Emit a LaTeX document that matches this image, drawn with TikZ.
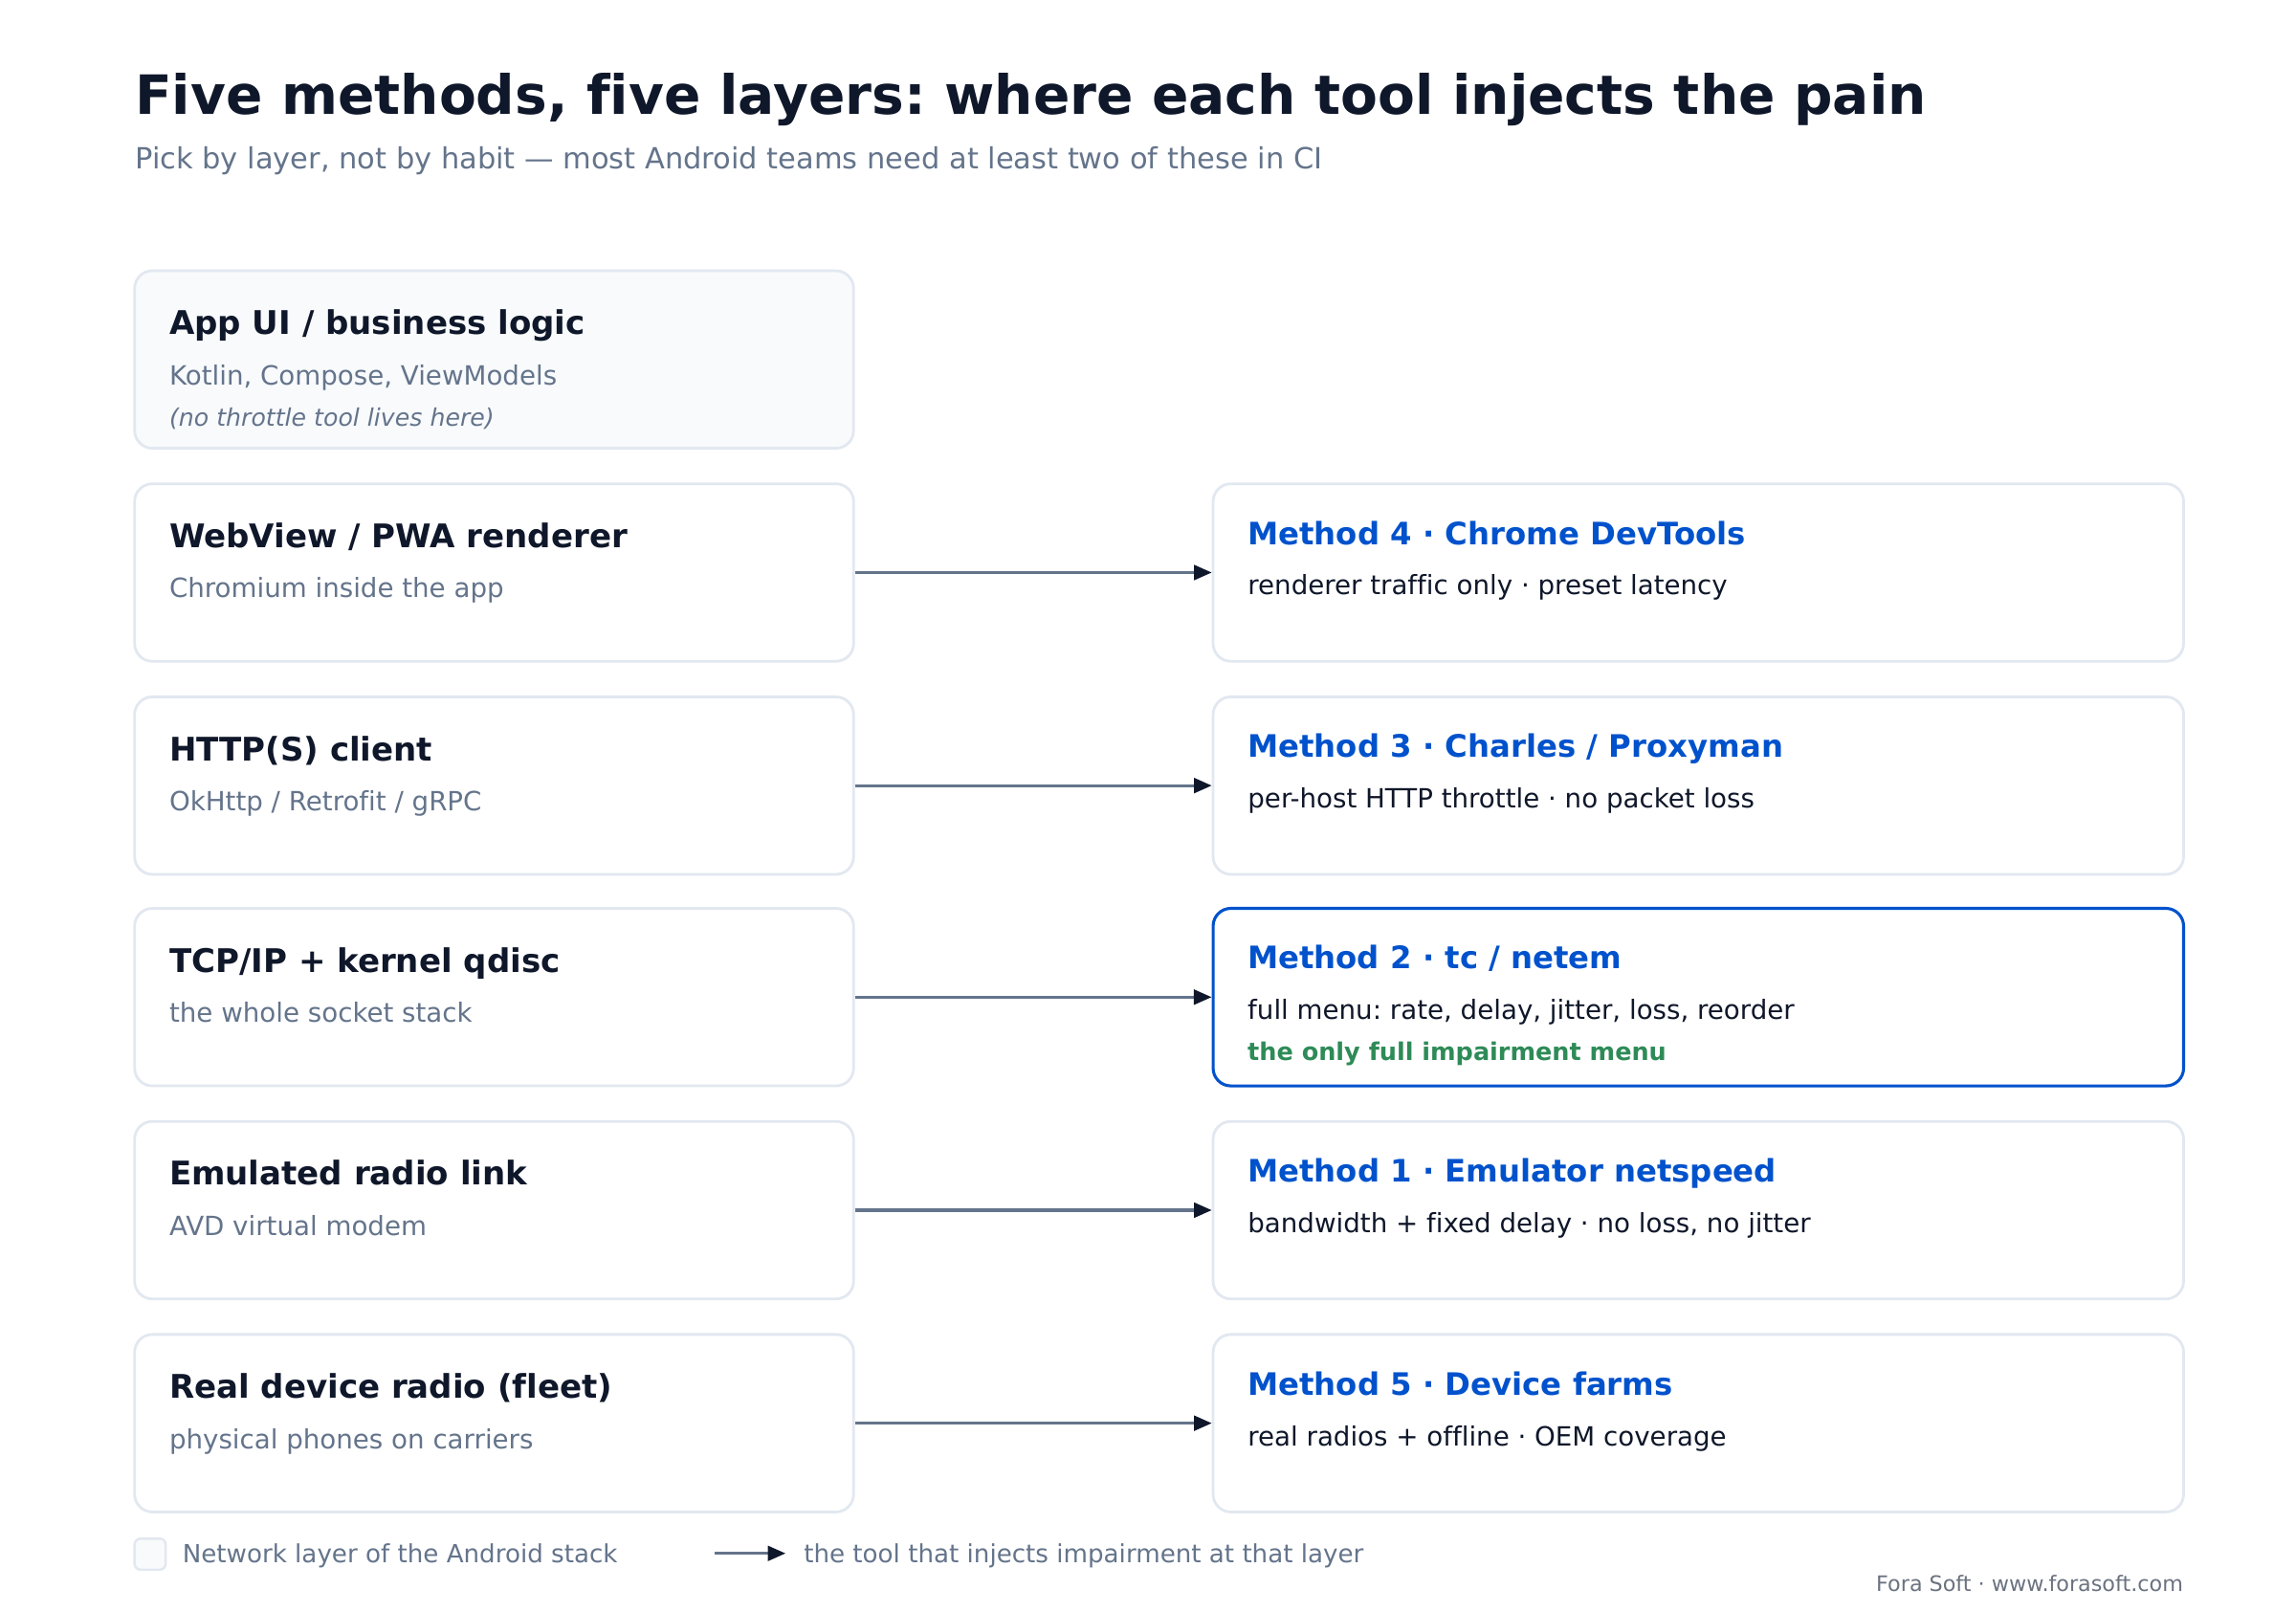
\documentclass[tikz,border=0pt]{standalone}
\usepackage{fontspec}
\setmainfont{DejaVu Sans}[Ligatures=NoCommon]
\usetikzlibrary{arrows.meta}
\definecolor{ink}{HTML}{0F172A}
\definecolor{muted}{HTML}{64748B}
\definecolor{edge}{HTML}{E2E8F0}
\definecolor{panel}{HTML}{F8FAFC}
\definecolor{accent}{HTML}{0052CC}
\definecolor{good}{HTML}{2E8B57}
\definecolor{credit}{HTML}{6B7280}
\frenchspacing
\tikzset{
  layer/.style={draw=edge, fill=white, rounded corners=6pt, line width=0.9pt,
    minimum width=243pt, minimum height=60pt, inner sep=0pt},
  applayer/.style={layer, fill=panel},
  method/.style={layer, minimum width=328pt},
  keymethod/.style={method, draw=accent, line width=1pt},
  head/.style={anchor=base west, inner sep=0pt, text=ink, font=\bfseries\fontsize{11}{13}\selectfont},
  mhead/.style={head, text=accent, font=\bfseries\fontsize{10.45}{12.5}\selectfont},
  sub/.style={anchor=base west, inner sep=0pt, text=muted, font=\fontsize{8.95}{11}\selectfont},
  msub/.style={sub, text=ink},
  aside/.style={sub, font=\itshape\fontsize{8.15}{10}\selectfont},
  win/.style={sub, text=good, font=\bfseries\fontsize{8.25}{10}\selectfont},
  keytext/.style={sub, font=\fontsize{8.45}{10}\selectfont},
  link/.style={draw=muted, line width=1pt, -{Triangle[length=6pt, width=5pt, color=ink]}}
}

\begin{document}
\begin{tikzpicture}[x=0.5pt, y=0.5pt]
  \fill[white] (0,0) rectangle (1552,-1089);
  \useasboundingbox (0,0) rectangle (1552,-1089);

  \node[anchor=base west, inner sep=0pt, text=ink, font=\bfseries\fontsize{18.3}{22}\selectfont] (Title) at (91,-77)
    {Five methods, five layers: where each tool injects the pain};
  \node[anchor=base west, inner sep=0pt, text=muted, font=\fontsize{9.85}{12}\selectfont] (Subtitle) at (91,-114)
    {Pick by layer, not by habit — most Android teams need at least two of these in CI};

  \node[applayer](App) at (334,-243) {};
  \node[layer](Web) at (334,-387) {};
  \node[layer](Http) at (334,-531) {};
  \node[layer](Tcp) at (334,-674) {};
  \node[layer](Radio) at (334,-818) {};
  \node[layer](Fleet) at (334,-962) {};

  \node[method](DevTools) at (1148,-387) {};
  \node[method](Proxy) at (1148,-531) {};
  \node[keymethod](Netem) at (1148,-674) {};
  \node[method](Netspeed) at (1148,-818) {};
  \node[method](Farms) at (1148,-962) {};

  \node[head](AppH) at ([shift={(24,-44)}]App.north west) {App UI / business logic};
  \node[sub](AppS) at ([shift={(24,-78)}]App.north west) {Kotlin, Compose, ViewModels};
  \node[aside](AppN) at ([shift={(24,-106)}]App.north west) {(no throttle tool lives here)};
  \node[head](WebH) at ([shift={(24,-44)}]Web.north west) {WebView / PWA renderer};
  \node[sub](WebS) at ([shift={(24,-78)}]Web.north west) {Chromium inside the app};
  \node[head](HttpH) at ([shift={(24,-44)}]Http.north west) {HTTP(S) client};
  \node[sub](HttpS) at ([shift={(24,-78)}]Http.north west) {OkHttp / Retrofit / gRPC};
  \node[head](TcpH) at ([shift={(24,-44)}]Tcp.north west) {TCP/IP + kernel qdisc};
  \node[sub](TcpS) at ([shift={(24,-78)}]Tcp.north west) {the whole socket stack};
  \node[head](RadioH) at ([shift={(24,-44)}]Radio.north west) {Emulated radio link};
  \node[sub](RadioS) at ([shift={(24,-78)}]Radio.north west) {AVD virtual modem};
  \node[head](FleetH) at ([shift={(24,-44)}]Fleet.north west) {Real device radio (fleet)};
  \node[sub](FleetS) at ([shift={(24,-78)}]Fleet.north west) {physical phones on carriers};

  \node[mhead](DevToolsH) at ([shift={(24,-42)}]DevTools.north west) {Method 4 · Chrome DevTools};
  \node[msub](DevToolsS) at ([shift={(24,-76)}]DevTools.north west) {renderer traffic only · preset latency};
  \node[mhead](ProxyH) at ([shift={(24,-42)}]Proxy.north west) {Method 3 · Charles / Proxyman};
  \node[msub](ProxyS) at ([shift={(24,-76)}]Proxy.north west) {per-host HTTP throttle · no packet loss};
  \node[mhead](NetemH) at ([shift={(24,-42)}]Netem.north west) {Method 2 · tc / netem};
  \node[msub](NetemS) at ([shift={(24,-76)}]Netem.north west) {full menu: rate, delay, jitter, loss, reorder};
  \node[win](NetemW) at ([shift={(24,-104)}]Netem.north west) {the only full impairment menu};
  \node[mhead](NetspeedH) at ([shift={(24,-42)}]Netspeed.north west) {Method 1 · Emulator netspeed};
  \node[msub](NetspeedS) at ([shift={(24,-76)}]Netspeed.north west) {bandwidth + fixed delay · no loss, no jitter};
  \node[mhead](FarmsH) at ([shift={(24,-42)}]Farms.north west) {Method 5 · Device farms};
  \node[msub](FarmsS) at ([shift={(24,-76)}]Farms.north west) {real radios + offline · OEM coverage};

  \draw[link] (Web) -- (DevTools);
  \draw[link] (Http) -- (Proxy);
  \draw[link] (Tcp) -- (Netem);
  \draw[link] (Radio) -- (Netspeed);
  \draw[link] (Fleet) -- (Farms);

  \node[draw=edge, fill=panel, line width=0.8pt, rounded corners=2pt, minimum size=10.5pt, inner sep=0pt](Key) at (101.5,-1050.5) {};
  \node[keytext](KeyT) at (123,-1056) {Network layer of the Android stack};
  \coordinate (KeyA) at (483,-1050);
  \coordinate (KeyB) at (531,-1050);
  \draw[link] (KeyA) -- (KeyB);
  \node[keytext](KeyL) at (543,-1056) {the tool that injects impairment at that layer};

  \node[anchor=base east, inner sep=0pt, text=credit, font=\fontsize{7.2}{9}\selectfont](Credit) at (1476,-1076)
    {Fora Soft · www.forasoft.com};
\end{tikzpicture}
\end{document}
